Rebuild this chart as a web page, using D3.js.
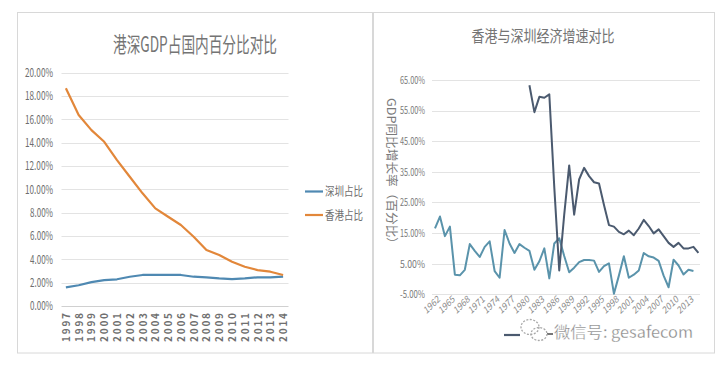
<!DOCTYPE html>
<html>
<head>
<meta charset="utf-8">
<script src="https://cdn.jsdelivr.net/npm/d3@7"></script>
<style>
  html, body { margin: 0; padding: 0; background: #fff; }
  svg { display: block; }
  text { font-family: "Noto Sans CJK SC", "Liberation Sans", sans-serif; }
</style>
</head>
<body>
<svg id="chart" width="728" height="372"></svg>
<script>
// ---------- data: left chart ----------
const leftTitle = "港深GDP占国内百分比对比";
const leftYears = [1997,1998,1999,2000,2001,2002,2003,2004,2005,2006,2007,2008,2009,2010,2011,2012,2013,2014];
const szShare = [1.60,1.78,2.05,2.22,2.29,2.51,2.66,2.66,2.66,2.66,2.51,2.46,2.37,2.31,2.37,2.46,2.46,2.51];
const hkShare = [18.66,16.37,15.08,14.08,12.51,11.08,9.66,8.37,7.65,6.94,5.94,4.80,4.37,3.80,3.37,3.08,2.94,2.66];
const leftTicks = [0,2,4,6,8,10,12,14,16,18,20];
const leftSeriesNames = ["深圳占比", "香港占比"];

// ---------- data: right chart ----------
const rightTitle = "香港与深圳经济增速对比";
const rightYAxisTitle = "GDP同比增长率（百分比）";
const rightYears = [1962,1963,1964,1965,1966,1967,1968,1969,1970,1971,1972,1973,1974,1975,1976,1977,1978,1979,1980,1981,1982,1983,1984,1985,1986,1987,1988,1989,1990,1991,1992,1993,1994,1995,1996,1997,1998,1999,2000,2001,2002,2003,2004,2005,2006,2007,2008,2009,2010,2011,2012,2013,2014,2015];
const rightLabelYears = [1962,1965,1968,1971,1974,1977,1980,1983,1986,1989,1992,1995,1998,2001,2004,2007,2010,2013];
const hkGrowth = [16.5,20.4,14.0,17.1,1.4,1.2,3.0,11.4,9.2,7.2,
                  10.5,12.3,2.6,0.4,16.0,11.6,8.5,11.4,10.2,9.2,
                  3.0,5.8,10.0,0.2,11.6,13.3,7.5,2.2,3.7,5.5,
                  6.2,6.2,6.0,2.3,4.2,5.1,-4.8,1.1,7.4,0.4,
                  1.4,2.8,8.5,7.4,7.0,5.9,1.1,-2.7,6.3,4.4,
                  1.5,3.0,2.6];
const szStartYear = 1981;
const szGrowth = [63.3,54.5,59.5,59.2,60.3,30.0,2.8,21.0,37.1,21.0,
                  32.5,36.3,33.6,31.6,31.2,24.2,17.6,17.1,15.4,14.6,
                  15.8,14.3,16.5,19.3,17.3,14.9,16.2,14.0,11.8,10.5,
                  11.8,10.0,10.0,10.5,8.5];
const rightTicks = [-5,5,15,25,35,45,55,65];
const watermark = "微信号: gesafecom";

// ---------- drawing ----------
const svg = d3.select("#chart");
const textGray = "#6e6e6e";
const gridColor = "#e3e3e3";
const pctFmt = d3.formatLocale({decimal: ".", thousands: ",", grouping: [3], currency: ["", ""], minus: "-"}).format(".2f");

// panel frames
svg.append("rect").attr("x", 17.5).attr("y", 12.5).attr("width", 355).attr("height", 340.5)
  .attr("fill", "#fff").attr("stroke", "#d8d8d8");
svg.append("rect").attr("x", 373.5).attr("y", 12.5).attr("width", 341).attr("height", 340.5)
  .attr("fill", "#fff").attr("stroke", "#d8d8d8");

// ===== Left chart =====
const L = svg.append("g");
const xL = d3.scalePoint().domain(leftYears).range([59.5, 289.5]).padding(0.5);
const yL = d3.scaleLinear().domain([0, 20]).range([306, 72.7]);

L.append("text").attr("x", 195).attr("y", 52).attr("text-anchor", "middle")
  .attr("font-size", 21).attr("fill", "#747474")
  .attr("textLength", 164).attr("lengthAdjust", "spacingAndGlyphs").text(leftTitle);

// grid
L.append("g").selectAll("line").data(leftTicks).join("line")
  .attr("x1", 61.5).attr("x2", 288.5)
  .attr("y1", d => Math.round(yL(d)) + 0.5).attr("y2", d => Math.round(yL(d)) + 0.5)
  .attr("stroke", d => d === 0 ? "#d0d0d0" : gridColor).attr("stroke-width", 1);

// y tick labels via axis
const yAxisL = d3.axisLeft(yL).tickValues(leftTicks).tickSize(0).tickPadding(0)
  .tickFormat(d => pctFmt(d) + "%");
const gyL = L.append("g").attr("transform", "translate(53,0)").call(yAxisL);
gyL.select(".domain").remove();
gyL.selectAll("text").attr("font-size", 12).attr("fill", textGray)
  .attr("font-family", "Liberation Sans, sans-serif")
  .attr("textLength", d => d >= 10 ? 28 : 23).attr("lengthAdjust", "spacingAndGlyphs");

// x labels
const xAxisL = d3.axisBottom(xL).tickSize(0).tickPadding(0);
const gxL = L.append("g").attr("transform", "translate(0,313)").call(xAxisL);
gxL.select(".domain").remove();
gxL.selectAll("text")
  .attr("transform", "rotate(-90)").attr("text-anchor", "end")
  .attr("x", 0).attr("y", 0).attr("dy", "0.35em")
  .attr("font-size", 10).attr("font-weight", "bold").attr("fill", "#707070")
  .attr("font-family", "Liberation Sans, sans-serif")
  .attr("textLength", 29).attr("lengthAdjust", "spacing");

const lineL = d3.line().x((d, i) => xL(leftYears[i])).y(d => yL(d));
const leftColors = ["#4f89b2", "#e2873a"];
[szShare, hkShare].forEach((s, k) => {
  L.append("path").datum(s).attr("d", lineL).attr("fill", "none")
    .attr("stroke", leftColors[k]).attr("stroke-width", 2.2).attr("stroke-linejoin", "round");
});

// legend
leftSeriesNames.forEach((n, k) => {
  const y = 191.5 + k * 23.5;
  L.append("line").attr("x1", 305).attr("x2", 323).attr("y1", y).attr("y2", y)
    .attr("stroke", leftColors[k]).attr("stroke-width", 2.2);
  L.append("text").attr("x", 325).attr("y", y + 4.5).attr("font-size", 12)
    .attr("fill", textGray).attr("textLength", 38).attr("lengthAdjust", "spacingAndGlyphs").text(n);
});

// ===== Right chart =====
const R = svg.append("g");
const xR = d3.scalePoint().domain(rightYears).range([432.5, 700.9]).padding(0.5);
const yR = d3.scaleLinear().domain([-5, 65]).range([294.3, 80]);

R.append("text").attr("x", 543).attr("y", 42).attr("text-anchor", "middle")
  .attr("font-size", 16).attr("fill", "#747474")
  .attr("textLength", 143).attr("lengthAdjust", "spacingAndGlyphs").text(rightTitle);

R.append("g").selectAll("line").data(rightTicks).join("line")
  .attr("x1", 432).attr("x2", 700)
  .attr("y1", d => Math.round(yR(d)) + 0.5).attr("y2", d => Math.round(yR(d)) + 0.5)
  .attr("stroke", gridColor).attr("stroke-width", 1);

const yAxisR = d3.axisLeft(yR).tickValues(rightTicks).tickSize(0).tickPadding(0)
  .tickFormat(d => pctFmt(d) + "%");
const gyR = R.append("g").attr("transform", "translate(425,0)").call(yAxisR);
gyR.select(".domain").remove();
gyR.selectAll("text").attr("font-size", 10.5).attr("fill", "#7a7a7a")
  .attr("font-family", "Liberation Sans, sans-serif")
  .attr("textLength", 25).attr("lengthAdjust", "spacingAndGlyphs");

// y axis title (rotated clockwise, reads top to bottom)
R.append("text").attr("transform", "translate(387,174) rotate(90)")
  .attr("text-anchor", "middle").attr("font-size", 12).attr("fill", "#7a7a7a")
  .attr("textLength", 152).attr("lengthAdjust", "spacingAndGlyphs").text(rightYAxisTitle);

const xAxisR = d3.axisBottom(xR).tickValues(rightLabelYears).tickSize(0).tickPadding(0);
const gxR = R.append("g").attr("transform", "translate(0,298)").call(xAxisR);
gxR.select(".domain").remove();
gxR.selectAll("text")
  .attr("transform", "translate(3,0) rotate(-45)").attr("text-anchor", "end")
  .attr("x", 0).attr("y", 0).attr("dy", "0.35em")
  .attr("font-size", 9).attr("font-style", "italic").attr("fill", "#8a8a8a")
  .attr("font-family", "Liberation Sans, sans-serif");

const hkColor = "#5a93ab";
const szColor = "#4b5a6f";
const lineHK = d3.line().x((d, i) => xR(rightYears[i])).y(d => yR(d));
const szOffset = rightYears.indexOf(szStartYear);
const lineSZ = d3.line().x((d, i) => xR(rightYears[i + szOffset])).y(d => yR(d));
R.append("path").datum(hkGrowth).attr("d", lineHK).attr("fill", "none")
  .attr("stroke", hkColor).attr("stroke-width", 2).attr("stroke-linejoin", "round");
R.append("path").datum(szGrowth).attr("d", lineSZ).attr("fill", "none")
  .attr("stroke", szColor).attr("stroke-width", 2).attr("stroke-linejoin", "round");

// legend remnants + watermark
R.append("line").attr("x1", 504).attr("x2", 520).attr("y1", 335).attr("y2", 335)
  .attr("stroke", szColor).attr("stroke-width", 2.2);
R.append("line").attr("x1", 547).attr("x2", 553).attr("y1", 334).attr("y2", 334)
  .attr("stroke", "#777").attr("stroke-width", 2);
const icon = R.append("g").attr("fill", "none").attr("stroke", "#a8a8a8").attr("stroke-width", 1.3)
  .attr("stroke-dasharray", "2,1.5");
icon.append("ellipse").attr("cx", 530).attr("cy", 327).attr("rx", 9).attr("ry", 7.5);
icon.append("ellipse").attr("cx", 539).attr("cy", 334).attr("rx", 8).attr("ry", 6.5);
R.append("text").attr("x", 554).attr("y", 338).attr("font-size", 16)
  .attr("fill", "#858585").attr("stroke", "#fff").attr("stroke-width", 0.3)
  .attr("textLength", 139).attr("lengthAdjust", "spacingAndGlyphs").text(watermark);
</script>
</body>
</html>
